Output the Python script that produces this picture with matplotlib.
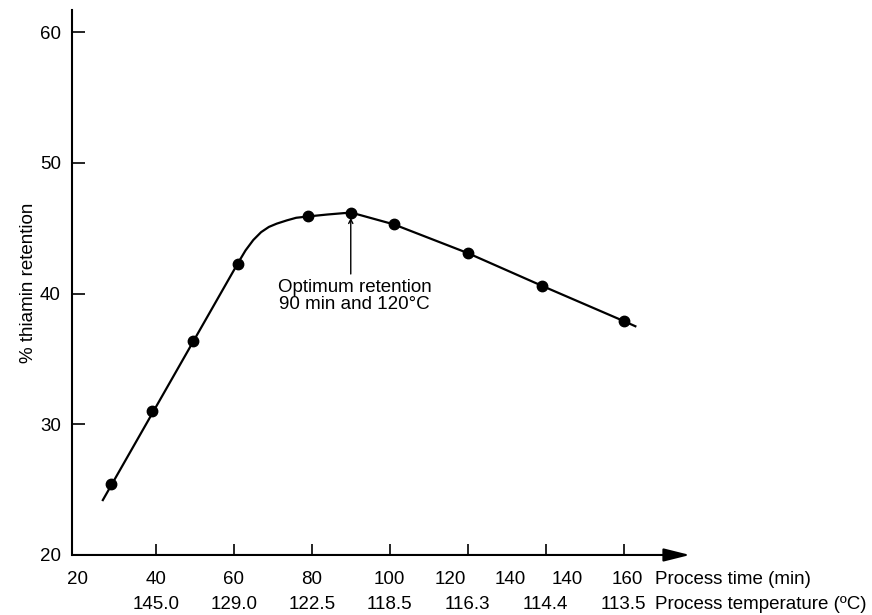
import numpy as np
import matplotlib
matplotlib.use("Agg")
import matplotlib.pyplot as plt

plt.rcParams['font.family'] = ['Liberation Sans', 'DejaVu Sans']

# measured points
time_min = [28.5, 39, 49.5, 61, 79, 90, 101, 120, 139, 160]
retention = [25.4, 31.0, 36.4, 42.3, 45.9, 46.2, 45.3, 43.1, 40.6, 37.9]

# fitted curve
curve_x = [26.4, 61, 63, 65, 67, 69, 71, 73.6, 76, 79, 84, 90, 92.5, 101, 120, 139, 160, 163]
curve_y = [24.2, 42.3, 43.3, 44.1, 44.7, 45.1, 45.35, 45.6, 45.8, 45.9, 46.05, 46.2, 46.0,
           45.3, 43.1, 40.6, 37.9, 37.5]

# axis labelling (as printed)
tick_pos = [40, 60, 80, 100, 120, 140, 160]
time_labels = ['20', '40', '60', '80', '100', '120', '140', '140', '160']
time_label_pos = [20, 40, 60, 80, 100, 115.5, 131, 145.5, 161]
temp_labels = ['145.0', '129.0', '122.5', '118.5', '116.3', '114.4', '113.5']

fs = 13.5

fig = plt.figure(figsize=(8.72, 6.15), dpi=100)
ax = fig.add_axes([0.0826, 0.0976, 0.7086, 0.8862])

ax.plot(curve_x, curve_y, color='black', lw=1.6, zorder=2)
ax.plot(time_min, retention, 'o', color='black', markersize=7.5, zorder=3)

ax.set_xlim(18.5, 177)
ax.set_ylim(20, 61.7)

for s in ['top', 'right', 'bottom']:
    ax.spines[s].set_visible(False)
ax.spines['left'].set_linewidth(1.5)
ax.annotate('', xy=(1, 0), xytext=(0, 0), xycoords='axes fraction',
            arrowprops=dict(arrowstyle='-|>,head_length=0.8,head_width=0.2',
                            lw=1.5, color='black', mutation_scale=20,
                            shrinkA=0, shrinkB=0))

ax.set_yticks([20, 30, 40, 50, 60])
ax.tick_params(axis='y', direction='in', length=9, width=1.2, labelsize=fs, pad=8)
ax.set_xticks(tick_pos)
ax.set_xticklabels([])
ax.tick_params(axis='x', direction='in', length=8, width=1.2)

ax.set_ylabel('% thiamin retention', fontsize=fs, labelpad=2)

for lab, xp in zip(time_labels, time_label_pos):
    ax.annotate(lab, xy=(xp, 0), xycoords=('data', 'axes fraction'),
                xytext=(0, -25), textcoords='offset pixels',
                ha='center', va='center', fontsize=fs, annotation_clip=False)
for lab, xp in zip(temp_labels, tick_pos):
    ax.annotate(lab, xy=(xp, 0), xycoords=('data', 'axes fraction'),
                xytext=(0, -50), textcoords='offset pixels',
                ha='center', va='center', fontsize=fs, annotation_clip=False)

ax.annotate('Process time (min)', xy=(168, 0), xycoords=('data', 'axes fraction'),
            xytext=(0, -25), textcoords='offset pixels',
            ha='left', va='center', fontsize=fs, annotation_clip=False)
ax.annotate('Process temperature (ºC)', xy=(168, 0), xycoords=('data', 'axes fraction'),
            xytext=(0, -50), textcoords='offset pixels',
            ha='left', va='center', fontsize=fs, annotation_clip=False)

ax.annotate('', xy=(90, 45.8), xytext=(90, 41.5),
            arrowprops=dict(arrowstyle='->,head_length=0.3,head_width=0.15',
                            lw=1.0, color='black', shrinkA=0, shrinkB=0))
ax.text(91, 39.85, 'Optimum retention\n90 min and 120°C', ha='center', va='center',
        fontsize=fs, linespacing=1.0)

fig.savefig('out.png', dpi=100, facecolor='white')
